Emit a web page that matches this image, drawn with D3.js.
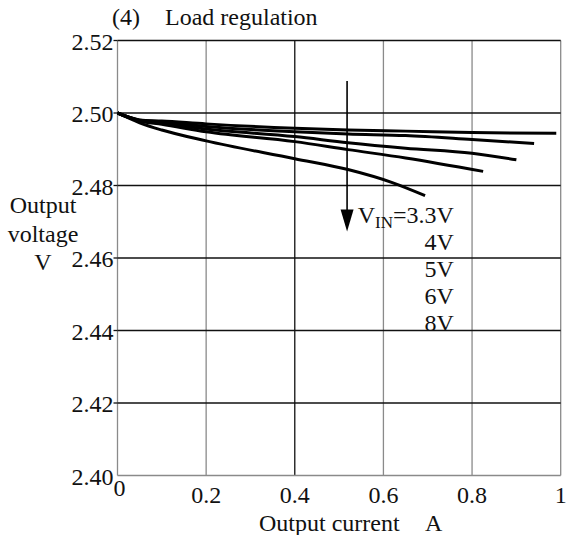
<!DOCTYPE html>
<html>
<head>
<meta charset="utf-8">
<script src="https://cdn.jsdelivr.net/npm/d3@7"></script>
<style>
  html, body { margin: 0; padding: 0; background: #fff; }
  svg { display: block; }
  text { font-family: "Liberation Serif", "Times New Roman", serif; fill: #111; }
</style>
</head>
<body>
<svg id="chart" width="582" height="535"></svg>
<script>
// ---- data ----
const xTicks = [0, 0.2, 0.4, 0.6, 0.8, 1];
const xTickLabels = ["0", "0.2", "0.4", "0.6", "0.8", "1"];
const yTicks = [2.40, 2.42, 2.44, 2.46, 2.48, 2.50, 2.52];
const yTickLabels = ["2.40", "2.42", "2.44", "2.46", "2.48", "2.50", "2.52"];

const seriesNames = ["3.3V", "4V", "5V", "6V", "8V"];
const current33 = [0, 0.05, 0.1, 0.2, 0.4, 0.52, 0.62, 0.694];
const voltage33 = [2.500, 2.4973, 2.4953, 2.4923, 2.4874, 2.4844, 2.4808, 2.4772];
const current4 = [0, 0.05, 0.1, 0.2, 0.4, 0.52, 0.65, 0.825];
const voltage4 = [2.500, 2.4978, 2.4969, 2.4948, 2.4921, 2.4899, 2.4876, 2.4839];
const current5 = [0, 0.05, 0.1, 0.2, 0.4, 0.52, 0.65, 0.8, 0.9];
const voltage5 = [2.500, 2.4979, 2.4972, 2.4956, 2.4935, 2.4918, 2.4903, 2.4889, 2.4871];
const current6 = [0, 0.05, 0.1, 0.2, 0.4, 0.52, 0.65, 0.8, 0.94];
const voltage6 = [2.500, 2.4980, 2.4975, 2.4963, 2.4948, 2.4942, 2.4938, 2.4927, 2.4916];
const current8 = [0, 0.05, 0.1, 0.2, 0.4, 0.52, 0.65, 0.8, 0.99];
const voltage8 = [2.500, 2.4981, 2.4978, 2.4970, 2.4958, 2.4953, 2.4950, 2.4946, 2.4944];

const legendLabels = ["=3.3V", "4V", "5V", "6V", "8V"];
const arrowX = 0.518, arrowFrom = 2.5088, arrowTo = 2.4673;

// ---- layout ----
const svg = d3.select("#chart");
const plotLeft = 117.5, plotRight = 560.7, plotTop = 40.5, plotBottom = 475.5;
const x = d3.scaleLinear().domain([0, 1]).range([plotLeft, plotRight]);
const y = d3.scaleLinear().domain([2.40, 2.52]).range([plotBottom, plotTop]);
const fs = 24;

svg.append("rect").attr("width", 582).attr("height", 535).attr("fill", "#fff");

// vertical grid
const vGrid = svg.append("g");
xTicks.forEach((t) => {
  const dark = (t === 0.4);
  vGrid.append("line")
    .attr("x1", x(t)).attr("x2", x(t))
    .attr("y1", y(2.52)).attr("y2", y(2.40))
    .attr("stroke", dark ? "#111" : "#8a8a8a")
    .attr("stroke-width", 1.3);
});
// horizontal grid
const hGrid = svg.append("g");
yTicks.forEach((t) => {
  const isBottom = (t === 2.40);
  hGrid.append("line")
    .attr("x1", x(0)).attr("x2", x(1))
    .attr("y1", y(t)).attr("y2", y(t))
    .attr("stroke", isBottom ? "#8a8a8a" : "#111")
    .attr("stroke-width", 1.3);
  if (!isBottom) {
    hGrid.append("line")
      .attr("x1", x(0) - 4).attr("x2", x(0))
      .attr("y1", y(t)).attr("y2", y(t))
      .attr("stroke", "#111").attr("stroke-width", 1.3);
  }
});

// y tick labels
svg.append("g").selectAll("text").data(yTicks).join("text")
  .attr("x", x(0) - 4)
  .attr("y", d => y(d) + 9)
  .attr("text-anchor", "end")
  .attr("font-size", fs)
  .text((d, i) => yTickLabels[i]);

// x tick labels
svg.append("g").selectAll("text").data(xTicks).join("text")
  .attr("x", d => x(d) + (d === 0 ? 2 : 0))
  .attr("y", d => d === 0 ? plotBottom + 20 : plotBottom + 27)
  .attr("text-anchor", "middle")
  .attr("font-size", fs)
  .text((d, i) => xTickLabels[i]);

// curves
const seriesX = [current33, current4, current5, current6, current8];
const seriesY = [voltage33, voltage4, voltage5, voltage6, voltage8];
const line = d3.line().x(d => x(d[0])).y(d => y(d[1])).curve(d3.curveMonotoneX);
seriesNames.forEach((name, i) => {
  const pts = seriesX[i].map((c, j) => [c, seriesY[i][j]]);
  svg.append("path")
    .attr("d", line(pts))
    .attr("fill", "none")
    .attr("stroke", "#000")
    .attr("stroke-width", 3);
});

// arrow
const ax = x(arrowX);
const headLen = 22, headW = 13;
svg.append("line")
  .attr("x1", ax).attr("x2", ax)
  .attr("y1", y(arrowFrom)).attr("y2", y(arrowTo) - headLen + 2)
  .attr("stroke", "#000").attr("stroke-width", 1.6);
svg.append("path")
  .attr("d", `M${ax - headW / 2},${y(arrowTo) - headLen} L${ax + headW / 2},${y(arrowTo) - headLen} L${ax},${y(arrowTo)} Z`)
  .attr("fill", "#000");

// legend labels
const labelRight = x(0.759);
const labelTop = y(2.4697);
const lg = svg.append("g");
legendLabels.forEach((lab, i) => {
  const t = lg.append("text")
    .attr("x", labelRight)
    .attr("y", labelTop + i * 27)
    .attr("text-anchor", "end")
    .attr("font-size", fs);
  if (i === 0) {
    t.append("tspan").text("V");
    t.append("tspan").attr("font-size", 17).attr("dy", 5).text("IN");
    t.append("tspan").attr("dy", -5).text(lab);
  } else {
    t.text(lab);
  }
});

// title
svg.append("text").attr("x", 112).attr("y", 25).attr("font-size", fs).text("(4)");
svg.append("text").attr("x", 165).attr("y", 25).attr("font-size", fs).text("Load regulation");

// y axis title
["Output", "voltage", "V"].forEach((s, i) => {
  svg.append("text")
    .attr("x", 43).attr("y", 213 + i * 28.5)
    .attr("text-anchor", "middle")
    .attr("font-size", fs)
    .text(s);
});

// x axis title
svg.append("text").attr("x", 259).attr("y", 531).attr("font-size", fs).text("Output current");
svg.append("text").attr("x", 425).attr("y", 531).attr("font-size", fs).text("A");
</script>
</body>
</html>
